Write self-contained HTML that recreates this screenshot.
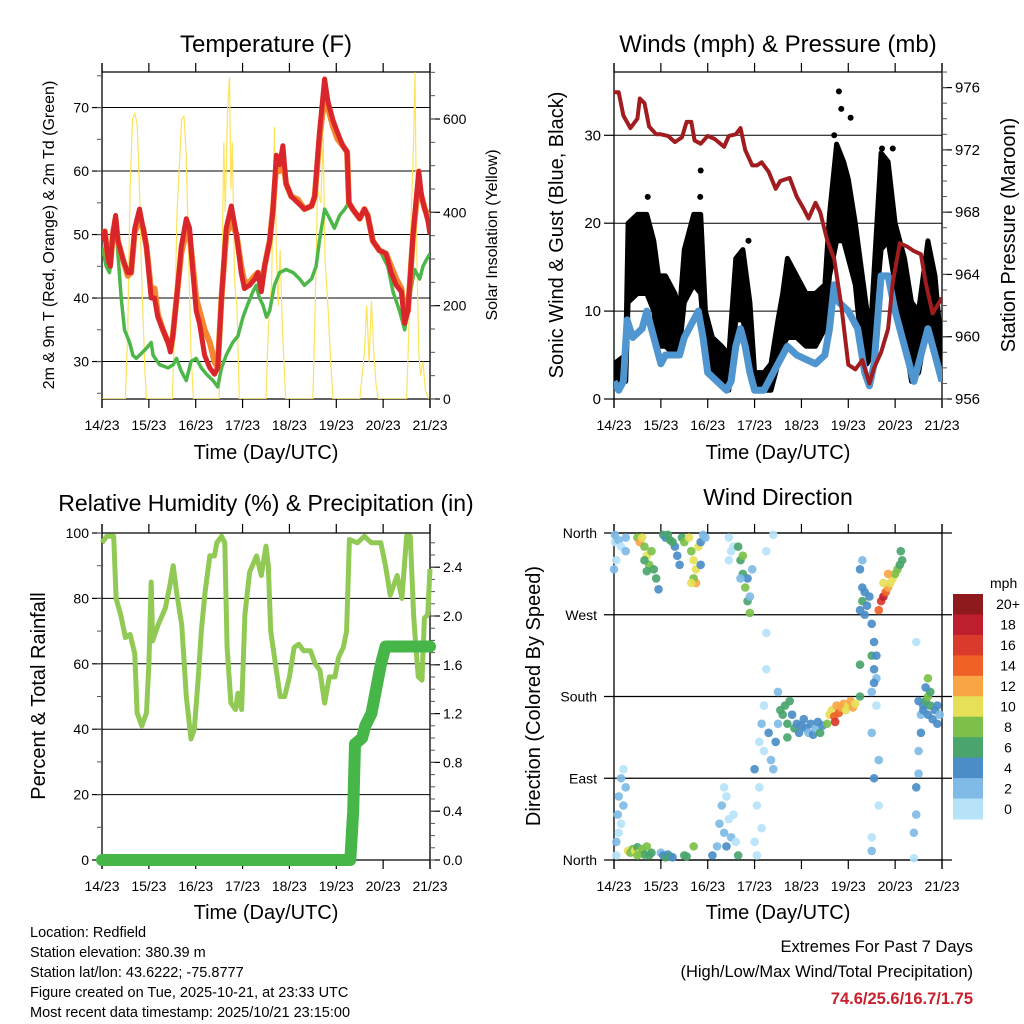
<!DOCTYPE html>
<html><head><meta charset="utf-8">
<style>
html,body{margin:0;padding:0;background:#fff;}
svg{display:block;font-family:"Liberation Sans",sans-serif;}
</style></head>
<body>
<svg id="chart" width="1024" height="1024" viewBox="0 0 1024 1024" xmlns="http://www.w3.org/2000/svg">
<rect x="0" y="0" width="1024" height="1024" fill="#fff"/>
<g id="layer"></g>
<text x="266" y="52" font-size="24" text-anchor="middle">Temperature (F)</text>
<text x="778" y="52" font-size="24" text-anchor="middle">Winds (mph) &amp; Pressure (mb)</text>
<text x="266" y="511" font-size="23" text-anchor="middle">Relative Humidity (%) &amp; Precipitation (in)</text>
<text x="778" y="505" font-size="23" text-anchor="middle">Wind Direction</text>
<text x="266" y="459" font-size="20" text-anchor="middle">Time (Day/UTC)</text>
<text x="778" y="459" font-size="20" text-anchor="middle">Time (Day/UTC)</text>
<text x="266" y="919" font-size="20" text-anchor="middle">Time (Day/UTC)</text>
<text x="778" y="919" font-size="20" text-anchor="middle">Time (Day/UTC)</text>
<text transform="translate(54,235) rotate(-90)" font-size="16" text-anchor="middle">2m &amp; 9m T (Red, Orange) &amp; 2m Td (Green)</text>
<text transform="translate(497,235) rotate(-90)" font-size="16" text-anchor="middle">Solar Insolation (Yellow)</text>
<text transform="translate(563,235) rotate(-90)" font-size="20" text-anchor="middle">Sonic Wind &amp; Gust (Blue, Black)</text>
<text transform="translate(1015,235) rotate(-90)" font-size="20" text-anchor="middle">Station Pressure (Maroon)</text>
<text transform="translate(45,696) rotate(-90)" font-size="20" text-anchor="middle">Percent &amp; Total Rainfall</text>
<text transform="translate(540,696) rotate(-90)" font-size="20" text-anchor="middle">Direction (Colored By Speed)</text>
<g font-size="14.5">
<text x="30" y="937">Location: Redfield</text>
<text x="30" y="957">Station elevation: 380.39 m</text>
<text x="30" y="977">Station lat/lon: 43.6222; -75.8777</text>
<text x="30" y="997">Figure created on Tue, 2025-10-21, at 23:33 UTC</text>
<text x="30" y="1017">Most recent data timestamp: 2025/10/21 23:15:00</text>
</g>
<g text-anchor="end">
<text x="973" y="952" font-size="16.5">Extremes For Past 7 Days</text>
<text x="973" y="977" font-size="16.5">(High/Low/Max Wind/Total Precipitation)</text>
<text x="973" y="1004" font-size="16.5" font-weight="bold" fill="#c8202c">74.6/25.6/16.7/1.75</text>
</g>
</svg>
<script>
const dayLabels=["14/23","15/23","16/23","17/23","18/23","19/23","20/23","21/23"];
const tempTicks=[30,40,50,60,70];
const solarTicks=[0,200,400,600];
const windTicks=[0,10,20,30];
const pressTicks=[956,960,964,968,972,976];
const rhTicks=[0,20,40,60,80,100];
const precipTicks=[0.0,0.4,0.8,1.2,1.6,2.0,2.4];
const dirLabels=["North","East","South","West","North"];
const dirValues=[0,90,180,270,360];
const tempRed=[[0,49],[0.06,50.5],[0.13,46],[0.18,45],[0.23,50],[0.29,53],[0.34,49],[0.45,46],[0.55,44],[0.62,44],[0.7,51],[0.8,54],[0.88,51],[0.95,48],[1.05,40],[1.12,40],[1.19,37],[1.3,35],[1.41,33],[1.46,31.5],[1.51,34],[1.62,42],[1.69,48],[1.8,52.5],[1.87,51],[1.94,44],[2.01,38],[2.08,36],[2.19,31],[2.3,29],[2.4,28],[2.47,29],[2.55,40],[2.65,51],[2.76,54.5],[2.87,50],[2.97,44],[3.04,41.5],[3.15,42],[3.26,43],[3.33,44],[3.4,41],[3.47,45],[3.58,49],[3.65,54],[3.72,62.5],[3.79,61],[3.86,64],[3.93,58],[4.04,56],[4.18,55],[4.32,54],[4.47,54.5],[4.54,56],[4.64,66],[4.75,74.5],[4.82,71],[4.93,68],[5.03,66],[5.14,64],[5.23,63],[5.27,55],[5.35,54],[5.5,52.5],[5.6,54],[5.67,53],[5.78,49],[5.92,47.5],[6.06,47],[6.17,44],[6.28,42],[6.39,41],[6.46,36],[6.53,38],[6.64,50],[6.71,56],[6.76,60],[6.82,56],[6.89,54],[6.96,52],[7,50]];
const tempOrange=[[0,50],[0.06,50.5],[0.13,46],[0.18,45.5],[0.23,50],[0.29,52.5],[0.34,49],[0.45,46],[0.55,43.5],[0.62,44],[0.7,50.5],[0.8,52],[0.88,51],[0.95,48],[1.05,41],[1.12,41.5],[1.19,37.5],[1.3,35],[1.41,33],[1.46,32],[1.51,34],[1.62,42],[1.69,47],[1.8,50.5],[1.87,50],[1.94,45],[2.01,40],[2.08,38],[2.19,35],[2.3,33],[2.4,30],[2.47,29],[2.55,40],[2.65,50],[2.76,52],[2.87,50],[2.97,45],[3.04,42.5],[3.15,42.5],[3.26,43.5],[3.33,44],[3.4,41.5],[3.47,45],[3.58,49],[3.65,54],[3.72,61],[3.79,60],[3.86,62],[3.93,58],[4.04,56],[4.18,55.5],[4.32,54],[4.47,54.5],[4.54,56],[4.64,65],[4.75,72],[4.82,70],[4.93,67],[5.03,65],[5.14,64],[5.23,63],[5.27,55],[5.35,54],[5.5,52.5],[5.6,54],[5.67,53],[5.78,49],[5.92,47.5],[6.06,47],[6.17,45],[6.28,43],[6.39,41.5],[6.46,37],[6.53,38],[6.64,50],[6.71,55],[6.76,58],[6.82,56],[6.89,54],[6.96,53],[7,52]];
const dewGreen=[[0,48],[0.09,45],[0.16,44],[0.23,48],[0.29,52],[0.34,47],[0.41,40],[0.48,35],[0.59,33],[0.66,31],[0.73,30.5],[0.8,31],[0.94,32],[1.05,33],[1.09,31],[1.23,29.5],[1.41,29],[1.52,29.5],[1.59,30.5],[1.69,28.5],[1.8,27],[1.9,30],[2.01,30.5],[2.12,29],[2.23,28],[2.37,27],[2.47,26],[2.55,29],[2.65,31],[2.79,33],[2.9,34],[3.01,37],[3.11,39],[3.22,41],[3.29,42],[3.36,40],[3.43,39],[3.51,37],[3.58,38],[3.68,42],[3.79,44],[3.93,44.5],[4.08,44],[4.22,43],[4.32,42],[4.47,43],[4.57,45],[4.64,49],[4.75,54],[4.86,52.5],[4.96,51],[5.07,53],[5.18,54],[5.27,55],[5.35,54],[5.5,52.5],[5.6,54],[5.71,52],[5.82,48.5],[5.96,47],[6.1,45],[6.21,41],[6.35,38],[6.46,35],[6.56,40],[6.67,44.5],[6.78,43],[6.85,45],[6.92,46],[7,47]];
const solar=[[0,0],[0.5,0],[0.55,150],[0.6,450],[0.65,600],[0.7,612],[0.75,590],[0.8,450],[0.85,250],[0.92,50],[0.95,0],[1.5,0],[1.55,150],[1.6,400],[1.7,600],[1.75,606],[1.8,520],[1.85,300],[1.9,100],[1.95,0],[2.5,0],[2.55,200],[2.6,550],[2.63,400],[2.68,620],[2.72,690],[2.75,450],[2.78,550],[2.83,250],[2.88,200],[2.93,0],[3.5,0],[3.55,150],[3.62,250],[3.68,583],[3.72,320],[3.76,200],[3.8,320],[3.85,150],[3.92,0],[4.5,0],[4.55,200],[4.6,450],[4.67,420],[4.72,560],[4.76,300],[4.82,200],[4.88,80],[4.93,0],[5.5,0],[5.55,50],[5.6,100],[5.65,200],[5.7,80],[5.75,210],[5.8,100],[5.85,30],[5.9,0],[6.5,0],[6.55,150],[6.6,400],[6.65,550],[6.68,700],[6.72,300],[6.76,100],[6.8,50],[6.85,80],[6.9,20],[6.97,0]];
const windBlue=[[0,2],[0.1,1],[0.2,2],[0.28,9],[0.4,7],[0.6,8],[0.7,10],[0.85,7],[1,4],[1.1,5],[1.3,5],[1.4,5],[1.5,7],[1.7,9],[1.8,10],[1.9,7],[2,3],[2.2,2],[2.4,1],[2.5,2],[2.6,6],[2.7,8],[2.8,6],[2.9,3],[3,1],[3.2,1],[3.3,2],[3.5,4],[3.7,6],[3.9,5],[4.1,4.5],[4.3,4],[4.5,5],[4.6,8],[4.7,13],[4.8,11],[5,10],[5.2,8],[5.35,3],[5.45,1.5],[5.55,4],[5.7,14],[5.85,14],[6,10],[6.2,6],[6.4,2],[6.55,5],[6.7,8],[6.85,5],[7,2]];
const gustLow=[[0,2],[0.25,2],[0.3,11],[0.5,12],[0.7,12],[0.85,10],[0.95,6],[1.1,6],[1.3,5],[1.4,6],[1.5,11],[1.7,13],[1.85,12],[1.95,5],[2.1,3],[2.3,2],[2.45,1],[2.6,9],[2.75,9],[2.9,5],[3,1],[3.2,1],[3.35,1],[3.5,4],[3.6,6],[3.7,7],[3.9,7],[4.1,6],[4.3,6],[4.5,8],[4.6,14],[4.75,18],[4.9,18],[5,16],[5.15,13],[5.3,5],[5.4,4],[5.5,5],[5.7,17],[5.85,18],[6,13],[6.2,7],[6.35,2],[6.5,3],[6.7,9],[6.85,6],[7,3]];
const gustHigh=[[0,4],[0.25,5],[0.3,20],[0.5,21],[0.7,21],[0.85,18],[0.95,14],[1.1,14],[1.3,12],[1.4,10],[1.5,17],[1.7,21],[1.85,21],[1.95,10],[2.1,7],[2.3,6],[2.45,5],[2.6,16],[2.75,17],[2.9,11],[3,3],[3.2,3],[3.35,4],[3.5,9],[3.6,12],[3.7,16],[3.9,14],[4.1,12],[4.3,12],[4.5,13],[4.6,21],[4.75,29],[4.9,27],[5,25],[5.15,20],[5.3,14],[5.4,10],[5.5,10],[5.7,28],[5.85,27],[6,20],[6.2,16],[6.35,11],[6.5,10],[6.7,18],[6.85,14],[7,5]];
const gustOutliers=[[4.8,35],[5.05,32],[1.85,26],[1.84,23],[0.72,23],[4.7,30],[4.85,33],[5.72,28.5],[5.95,28.5],[2.87,18]];
const pressure=[[0,975.7],[0.1,975.7],[0.2,974.2],[0.35,973.4],[0.5,974],[0.55,975.3],[0.65,975],[0.75,973.5],[0.9,973],[1,973],[1.15,972.9],[1.3,972.5],[1.45,972.8],[1.55,973.8],[1.65,973.8],[1.72,972.6],[1.85,972.4],[2,972.9],[2.15,972.7],[2.35,972.2],[2.45,972.9],[2.6,973],[2.7,973.4],[2.8,972],[2.95,971],[3.05,971],[3.15,971.2],[3.3,970.6],[3.45,969.5],[3.55,970],[3.75,970.2],[3.9,969],[4.05,968.2],[4.15,967.6],[4.3,968.6],[4.4,968],[4.55,966.2],[4.7,965],[4.85,962],[5,958.2],[5.15,957.9],[5.3,958.5],[5.45,957],[5.55,958],[5.7,959],[5.85,960.5],[5.95,963.5],[6.1,966],[6.25,965.8],[6.4,965.5],[6.55,965.3],[6.65,963.5],[6.8,961.5],[6.9,962],[7,962.5]];
const rh=[[0,97],[0.1,99],[0.25,99],[0.3,80],[0.4,75],[0.5,68],[0.6,69],[0.7,63],[0.75,45],[0.85,41],[0.95,45],[1,60],[1.05,85],[1.08,67],[1.2,72],[1.35,77],[1.45,84],[1.52,90],[1.6,81],[1.7,72],[1.8,50],[1.9,37],[1.97,40],[2.05,55],[2.12,70],[2.2,82],[2.3,93],[2.4,93],[2.45,97],[2.55,99],[2.62,97],[2.67,65],[2.75,48],[2.85,46],[2.9,51],[2.98,46],[3.05,75],[3.15,88],[3.3,93],[3.4,87],[3.5,96],[3.55,90],[3.6,70],[3.7,60],[3.8,50],[3.9,50],[4,56],[4.1,65],[4.2,66],[4.3,64],[4.45,64],[4.55,60],[4.65,58],[4.75,48],[4.85,56],[4.97,56],[5.05,62],[5.15,65],[5.22,70],[5.28,98],[5.45,97],[5.6,99],[5.75,97],[5.95,97],[6.05,90],[6.15,81],[6.3,87],[6.4,80],[6.5,99],[6.58,99],[6.65,75],[6.7,65],[6.75,56],[6.83,55],[6.88,74],[6.95,75],[7,89]];
const precip=[[0,0],[5.3,0],[5.36,0.4],[5.4,0.95],[5.55,1.0],[5.62,1.1],[5.75,1.2],[5.85,1.4],[5.95,1.6],[6.05,1.75],[7,1.75]];
const windDir=[[0.02,350,1],[0.02,358,2],[0.05,330,1],[0.1,352,2],[0.15,345,1],[0.25,355,2],[0.25,340,2],[0,320,3],
[0.05,20,2],[0.08,50,2],[0.1,70,3],[0.1,30,1],[0.15,90,2],[0.2,100,1],[0.2,60,2],[0.25,80,2],[0.05,5,1],[0.15,40,1],
[0.3,10,10],[0.35,8,9],[0.4,12,8],[0.45,10,10],[0.5,14,7],[0.55,8,10],[0.6,12,9],[0.65,6,7],[0.7,15,8],[0.75,5,6],[0.8,8,7],[0.5,5,8],
[1,8,3],[1.05,5,5],[1.1,3,6],[1.15,6,5],[1.2,4,6],[1.25,3,4],[1.5,5,6],[1.55,4,7],[1.7,15,8],
[0.5,355,8],[0.55,350,12],[0.6,355,10],[0.65,345,8],[0.7,335,10],[0.75,325,9],[0.8,340,8],[0.85,320,7],[0.9,310,6],[0.7,318,7],[0.65,330,7],[0.95,298,4],
[1.05,358,6],[1.1,355,5],[1.2,352,6],[1.3,345,4],[1.35,335,4],[1.4,325,4],[1.25,350,7],[1.15,358,6],[1.45,355,7],[1.5,350,8],
[1.6,355,10],[1.65,340,9],[1.7,330,10],[1.75,320,11],[1.8,345,10],[1.75,305,13],[1.7,310,8],[1.85,350,4],[1.9,358,3],[1.95,355,3],[1.85,325,4],[1.65,305,10],
[2.45,355,1],[2.5,340,1],[2.45,330,0],[2.55,345,1],[2.65,345,6],[2.7,330,6],[2.75,315,7],[2.8,300,8],[2.85,285,7],[2.9,272,8],[2.85,310,5],[2.75,335,8],[2.9,290,3],[2.7,310,3],[2.95,320,3],
[2.1,5,4],[2.2,15,3],[2.25,40,2],[2.3,60,2],[2.35,30,3],[2.4,70,1],[2.45,45,1],[2.5,25,2],[2.55,50,1],[2.6,20,1],[2.65,5,6],[2.4,15,4],[2.35,80,1],
[3,20,1],[3.05,60,1],[3,100,4],[3.1,130,1],[3.15,150,2],[3.2,170,1],[3.25,210,1],[3.25,250,1],[3.1,80,1],[3.2,120,1],[3.05,5,1],[3.15,35,0],[3.3,140,4],[3.35,110,2],[3.4,100,3],[3.45,130,4],[3.5,150,3],[3.5,185,3],[3.4,358,0],[3.25,340,1],
[3.55,165,6],[3.6,160,6],[3.65,170,7],[3.7,150,6],[3.75,175,7],[3.8,160,5],[3.85,145,6],[3.9,150,4],[3.95,140,4],[4,148,4],[3.7,135,7],
[4.05,155,4],[4.1,145,4],[4.15,140,3],[4.2,150,4],[4.25,138,4],[4.3,145,3],[4.35,152,4],[4.4,140,6],[4.45,148,4],
[4.55,150,8],[4.6,160,10],[4.65,165,11],[4.7,158,14],[4.75,170,13],[4.8,162,15],[4.85,168,12],[4.9,172,13],[4.95,165,11],[5,170,10],[5.05,175,12],[5.1,168,12],[5.15,172,10],[4.72,152,16],
[5.25,320,4],[5.3,300,4],[5.3,285,6],[5.35,295,4],[5.4,280,5],[5.35,270,4],[5.25,275,4],[5.45,290,4],[5.3,330,2],
[5.5,260,4],[5.55,240,5],[5.5,225,6],[5.55,210,4],[5.6,200,3],[5.55,195,4],[5.5,185,2],[5.6,170,1],[5.6,225,4],[5.25,215,6],[5.25,180,6],
[5.65,275,14],[5.7,285,16],[5.75,290,18],[5.8,295,15],[5.85,300,13],[5.9,305,10],[5.95,310,10],[6,315,9],[5.85,315,12],[5.75,305,10],[6.05,320,8],[6.1,325,7],[6.15,330,6],[6.12,340,6],
[5.5,25,1],[5.5,10,2],[5.55,90,4],[5.5,140,2],[5.65,110,2],[5.65,60,1],
[6.4,2,1],[6.4,30,2],[6.45,50,2],[6.45,80,4],[6.5,95,2],[6.5,120,3],[6.55,140,4],[6.55,160,3],[6.6,170,4],[6.45,240,1],[6.5,175,4],
[6.65,175,6],[6.7,180,8],[6.75,170,6],[6.7,160,5],[6.8,155,4],[6.85,165,4],[6.9,150,4],[6.95,160,3],[6.75,185,7],[6.65,190,4],[6.6,165,4],[6.9,170,5],[6.7,200,8]];
const speedLabels=["0","2","4","6","8","10","12","14","16","18","20+"];
const speedColors=["#b6e3f8","#7fbbe6","#4a8dc7","#4aa56d","#7cc04a","#e6df58","#f7a545","#ef6127","#d93a2b","#bf1e2e","#8f1a1d"];

const NS="http://www.w3.org/2000/svg";
const layer=document.getElementById('layer');
function mk(tag,attrs,parent){const e=document.createElementNS(NS,tag);for(const k in attrs)e.setAttribute(k,attrs[k]);(parent||layer).appendChild(e);return e;}
function scale(d0,d1,r0,r1){return v=>r0+(v-d0)/(d1-d0)*(r1-r0);}
const X0=102,X1=430,X2=614,X3=942;
const xL=scale(0,7,X0,X1), xR=scale(0,7,X2,X3);

function frame(xs,x0,x1,yT,yB,name){
  const g=mk('g',{});
  
  
  mk('line',{x1:x0,y1:yT-9,x2:x0,y2:yB+9,stroke:'#000','stroke-width':1.3},g);
  mk('line',{x1:x1,y1:yT-9,x2:x1,y2:yB+9,stroke:'#000','stroke-width':1.3},g);
  mk('line',{x1:x0,y1:yT,x2:x1,y2:yT,stroke:'#000','stroke-width':1.3},g);
  mk('line',{x1:x0,y1:yB,x2:x1,y2:yB,stroke:'#000','stroke-width':1.3},g);
  dayLabels.forEach((lab,i)=>{
    const x=xs(i);
    mk('line',{x1:x,y1:yT-9,x2:x,y2:yT,stroke:'#000','stroke-width':1.2},g);
    mk('line',{x1:x,y1:yB,x2:x,y2:yB+9,stroke:'#000','stroke-width':1.2},g);
    const t=mk('text',{x:x,y:yB+31,'font-size':14,'text-anchor':'middle'},g);
    t.textContent=lab;
    
    
  });
  return g;
}
function yAxis(ticks,ys,x,side,yT,yB,grid,x0,x1,fmt,minorStep,fs){
  const g=mk('g',{});
  
  
  ticks.forEach(v=>{
    const y=ys(v);
    if(grid) mk('line',{x1:x0,y1:y,x2:x1,y2:y,stroke:'#000','stroke-width':1},g);
    const dx=side==='left'?-10:10;
    mk('line',{x1:x,y1:y,x2:x+dx,y2:y,stroke:'#000','stroke-width':1.2},g);
    const t=mk('text',{x:side==='left'?x-13:x+13,y:y+5,'font-size':fs||14,'text-anchor':side==='left'?'end':'start'},g);
    t.textContent=fmt?fmt(v):v;
    
    
  });
  if(minorStep){
    const lo=Math.min(ys.inv(yB),ys.inv(yT)), hi=Math.max(ys.inv(yB),ys.inv(yT));
    for(let v=Math.ceil(lo/minorStep)*minorStep; v<=hi+1e-9; v+=minorStep){
      const y=ys(v); const dx=side==='left'?-5:5;
      mk('line',{x1:x,y1:y,x2:x+dx,y2:y,stroke:'#555','stroke-width':1},g);
    }
  }
}
function mkScale(d0,d1,r0,r1){const f=scale(d0,d1,r0,r1);f.inv=scale(r0,r1,d0,d1);return f;}
function path(data,xs,ys){return data.map((p,i)=>(i?'L':'M')+xs(p[0]).toFixed(1)+','+ys(p[1]).toFixed(1)).join('');}

// ---- Temperature panel ----
const yT1=72,yB1=399;
const tY=mkScale(24.1,75.6,yB1,yT1), sY=mkScale(0,700,yB1,yB1-280*700/600);
frame(xL,X0,X1,yT1,yB1,'temperature');
yAxis(tempTicks,tY,X0,'left',yT1,yB1,true,X0,X1,null,5);
yAxis(solarTicks,sY,X1,'right',yT1,yB1,false,0,0,null,50);
const clipT=mk('clipPath',{id:'cT'});mk('rect',{x:X0,y:yT1,width:X1-X0,height:yB1-yT1},clipT);
let e;
e=mk('path',{d:path(solar,xL,sY),fill:'none',stroke:'#fde35a','stroke-width':1.2,'clip-path':'url(#cT)'});

e=mk('path',{d:path(dewGreen,xL,tY),fill:'none',stroke:'#4cb748','stroke-width':3.5,'stroke-linejoin':'round','clip-path':'url(#cT)'});

e=mk('path',{d:path(tempOrange,xL,tY),fill:'none',stroke:'#f5862e','stroke-width':6,'stroke-linejoin':'round','clip-path':'url(#cT)'});

e=mk('path',{d:path(tempRed,xL,tY),fill:'none',stroke:'#d9262b','stroke-width':5,'stroke-linejoin':'round','clip-path':'url(#cT)'});


// ---- Winds panel ----
const wY=mkScale(0,37.2,yB1,yT1), pY=mkScale(956,977,yB1,yB1-15.57*21);
frame(xR,X2,X3,yT1,yB1,'winds');
yAxis(windTicks,wY,X2,'left',yT1,yB1,true,X2,X3,null,null,15);
yAxis(pressTicks,pY,X3,'right',yT1,yB1,false,0,0,null,1,15);
const clipW=mk('clipPath',{id:'cW'});mk('rect',{x:X2,y:yT1,width:X3-X2,height:yB1-yT1},clipW);
const gustPoly=gustHigh.map(p=>xR(p[0]).toFixed(1)+','+wY(p[1]).toFixed(1)).concat(gustLow.slice().reverse().map(p=>xR(p[0]).toFixed(1)+','+wY(p[1]).toFixed(1))).join(' ');
e=mk('polygon',{points:gustPoly,fill:'#000',stroke:'#000','stroke-width':5,'stroke-linejoin':'round','clip-path':'url(#cW)'});

gustOutliers.forEach(p=>{const c=mk('circle',{cx:xR(p[0]),cy:wY(p[1]),r:3,fill:'#000'});
});
e=mk('path',{d:path(windBlue,xR,wY),fill:'none',stroke:'#4f95d0','stroke-width':7,'stroke-linejoin':'round','clip-path':'url(#cW)'});

e=mk('path',{d:path(pressure,xR,pY),fill:'none',stroke:'#a01c1f','stroke-width':4,'stroke-linejoin':'round','clip-path':'url(#cW)'});


// ---- RH panel ----
const yT2=533,yB2=860;
const rY=mkScale(0,100,yB2,yT2), prY=mkScale(0,1,yB2,yB2-122);
frame(xL,X0,X1,yT2,yB2,'humidity');
yAxis(rhTicks,rY,X0,'left',yT2,yB2,true,X0,X1,null,10);
yAxis(precipTicks,prY,X1,'right',yT2,yB2,false,0,0,v=>v.toFixed(1),0.1);
e=mk('path',{d:path(rh,xL,rY),fill:'none',stroke:'#90c953','stroke-width':5,'stroke-linejoin':'round'});

e=mk('path',{d:path(precip,xL,prY),fill:'none',stroke:'#46b648','stroke-width':12,'stroke-linecap':'round','stroke-linejoin':'round'});


// ---- Wind direction panel ----
const dY=mkScale(0,360,yB2,yT2);
frame(xR,X2,X3,yT2,yB2,'wind-direction');
const gd=mk('g',{});


dirValues.forEach((v,i)=>{const y=dY(v);
  mk('line',{x1:X2-10,y1:y,x2:X3+10,y2:y,stroke:'#000','stroke-width':1.2},gd);
  const t=mk('text',{x:X2-17,y:y+5,'font-size':14,'text-anchor':'end'},gd);t.textContent=dirLabels[i];});
windDir.forEach(p=>{const bin=Math.min(10,Math.floor(p[2]/2));
  const c=mk('circle',{cx:xR(p[0]),cy:dY(p[1]),r:4.3,fill:speedColors[bin],'fill-opacity':0.92});
  
  });
// colorbar
const cb=mk('g',{});


const cbTop=594,cbH=225/11;
let mt=mk('text',{x:990,y:588,'font-size':14,'text-anchor':'start'},cb);mt.textContent='mph';
for(let i=0;i<11;i++){const k=10-i;const y=cbTop+i*cbH;
  mk('rect',{x:953,y:y,width:30,height:cbH+0.5,fill:speedColors[k]},cb);
  const t=mk('text',{x:1008,y:y+cbH/2+5,'font-size':14,'text-anchor':'middle'},cb);t.textContent=speedLabels[k];}
</script>
</body></html>
